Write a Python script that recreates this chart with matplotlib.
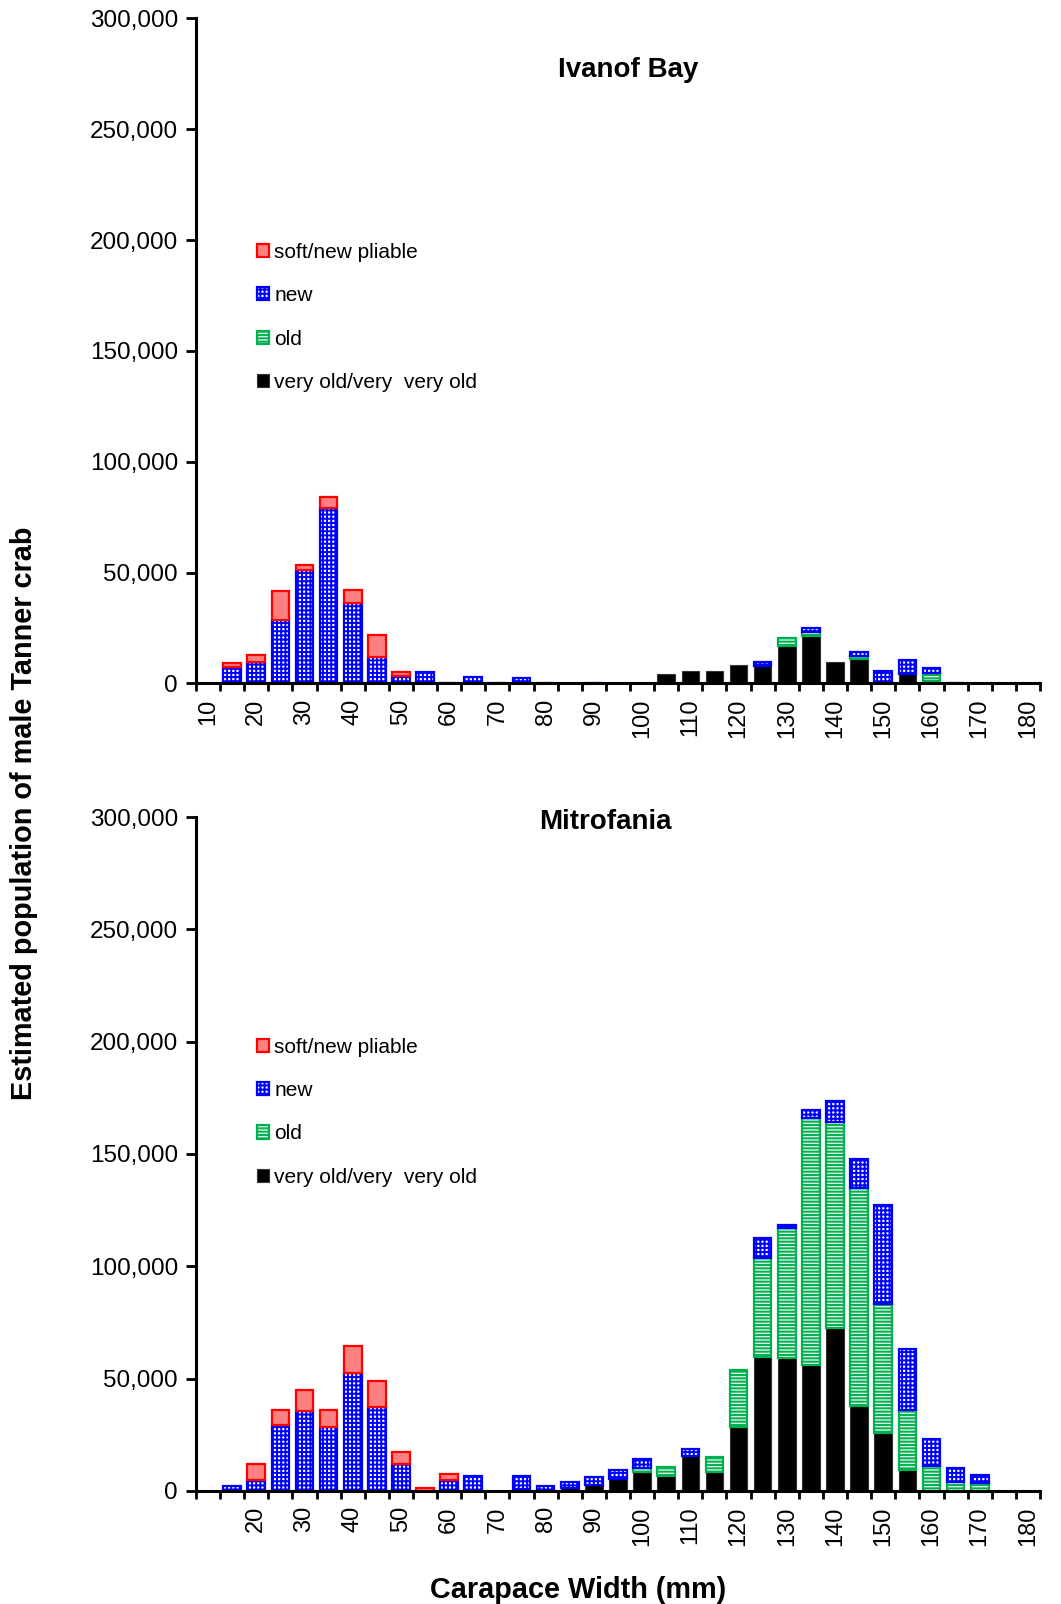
import matplotlib
matplotlib.use("Agg")
import matplotlib.pyplot as plt
import numpy as np
from matplotlib.ticker import FuncFormatter, FixedLocator

plt.rcParams['font.family'] = ['Liberation Sans', 'DejaVu Sans']
plt.rcParams['hatch.linewidth'] = 1.4

# ---------------- data ----------------
widths = [10, 15, 20, 25, 30, 35, 40, 45, 50, 55, 60, 65, 70, 75, 80, 85, 90, 95,
          100, 105, 110, 115, 120, 125, 130, 135, 140, 145, 150, 155, 160, 165,
          170, 175, 180]
series_names = ["soft/new pliable", "new", "old", "very old/very  very old"]

# Ivanof Bay
ivanof_very_old = [0, 0, 0, 0, 0, 0, 0, 0, 0, 0, 0, 0, 0, 0, 0, 0, 0, 0,
                   0, 4100, 5600, 5600, 8200, 7900, 17100, 21500, 9500, 11200, 0, 4100, 1100, 0,
                   0, 0, 0]
ivanof_old = [0, 0, 0, 0, 0, 0, 0, 0, 0, 0, 0, 0, 0, 0, 0, 0, 0, 0,
              0, 0, 0, 0, 0, 0, 3400, 1800, 0, 1200, 0, 0, 3700, 0,
              0, 0, 0]
ivanof_new = [0, 7600, 9800, 28800, 51100, 79200, 36100, 11800, 3300, 5000, 300, 3000, 200, 2600, 200, 0, 200, 0,
              0, 0, 0, 0, 0, 1600, 0, 1900, 0, 1800, 5600, 6700, 2000, 300,
              0, 0, 0]
ivanof_soft = [0, 1500, 3100, 12900, 2400, 4900, 6000, 10200, 1700, 0, 0, 0, 0, 0, 0, 0, 0, 0,
               0, 0, 0, 0, 0, 0, 0, 0, 0, 0, 0, 0, 0, 0,
               0, 0, 0]

# Mitrofania
mitro_very_old = [0, 0, 0, 0, 0, 0, 0, 0, 0, 0, 0, 0, 0, 700, 300, 1200, 2800, 5300,
                  8300, 6800, 15400, 8300, 28300, 59600, 59200, 55900, 72500, 37900, 25900, 9300, 0, 0,
                  0, 0, 0]
mitro_old = [0, 0, 0, 0, 0, 0, 0, 0, 0, 0, 0, 0, 0, 0, 0, 0, 0, 0,
             2100, 3700, 0, 6600, 25400, 44100, 57800, 110200, 91700, 96900, 57400, 26600, 11100, 3800,
             3400, 0, 0]
mitro_new = [0, 2200, 4700, 29300, 35500, 28600, 52700, 37400, 11800, 0, 4900, 6700, 0, 6000, 1900, 2900, 3300, 4000,
             3900, 0, 3400, 0, 0, 8900, 1300, 3700, 9600, 12800, 43900, 27400, 12000, 6600,
             3700, 0, 0]
mitro_soft = [0, 0, 7100, 6600, 9300, 7300, 11900, 11400, 5700, 1500, 2500, 0, 0, 0, 0, 0, 0, 0,
              0, 0, 0, 0, 0, 0, 0, 0, 0, 0, 0, 0, 0, 0,
              0, 0, 0]

top_labels = [str(w) if i % 2 == 0 else "" for i, w in enumerate(widths)]
bottom_labels = [("" if w == 10 else str(w)) if i % 2 == 0 else "" for i, w in enumerate(widths)]

# ---------------- style ----------------
styles = {
    "very_old": dict(facecolor="black", edgecolor="#333333", linewidth=0.8),
    "old": dict(facecolor="#d8f3e2", edgecolor="#00B050", hatch="-----", linewidth=1.6),
    "new": dict(facecolor="white", edgecolor="#0000FF", hatch="++++", linewidth=1.6),
    "soft": dict(facecolor="#FF8080", edgecolor="#FF0000", linewidth=1.6),
}

fig = plt.figure(figsize=(10.61, 16.04), dpi=100)
ax_top = fig.add_axes([0.1847, 0.5739, 0.7955, 0.4147])
ax_bot = fig.add_axes([0.1847, 0.0705, 0.7955, 0.4201])


def stacked(ax, x, vals, bottoms, w, style):
    vals = np.asarray(vals, float)
    m = vals > 0
    return ax.bar(x[m], vals[m], w, bottom=bottoms[m], zorder=2, **style)


def draw(ax, vo, ol, nw, sf, labels, title, title_xy, legend_y):
    x = np.arange(len(widths))
    vo = np.array(vo, float)
    ol = np.array(ol, float)
    nw = np.array(nw, float)
    sf = np.array(sf, float)
    w = 0.73
    zero = np.zeros(len(widths))
    b_vo = stacked(ax, x, vo, zero, w, styles["very_old"])
    b_ol = stacked(ax, x, ol, vo, w, styles["old"])
    b_nw = stacked(ax, x, nw, vo + ol, w, styles["new"])
    b_sf = stacked(ax, x, sf, vo + ol + nw, w, styles["soft"])

    ax.set_xlim(-0.5, len(widths) - 0.5)
    ax.set_ylim(0, 300000)
    ax.set_yticks(np.arange(0, 300001, 50000))
    ax.yaxis.set_major_formatter(FuncFormatter(lambda v, p: f"{int(v):,}"))
    ax.tick_params(axis='y', direction='out', length=7, width=2, labelsize=17.5, pad=6)

    ax.xaxis.set_major_locator(FixedLocator(x))
    ax.set_xticklabels(labels, rotation=90, fontsize=17)
    ax.xaxis.set_minor_locator(FixedLocator(np.arange(-0.5, len(widths), 1.0)))
    ax.tick_params(axis='x', which='major', length=0, pad=11)
    ax.tick_params(axis='x', which='minor', direction='out', length=6, width=2)

    for s in ['top', 'right']:
        ax.spines[s].set_visible(False)
    for s in ['left', 'bottom']:
        ax.spines[s].set_linewidth(2.2)

    ax.text(title_xy[0], title_xy[1], title, transform=ax.transAxes,
            ha='center', va='center', fontsize=20, fontweight='bold')

    ax.legend([b_sf, b_nw, b_ol, b_vo], series_names, loc='upper left',
              bbox_to_anchor=(0.062, legend_y), frameon=False, fontsize=15,
              handlelength=0.6, handleheight=0.6, handletextpad=0.25,
              labelspacing=1.17, borderaxespad=0)


draw(ax_top, ivanof_very_old, ivanof_old, ivanof_new, ivanof_soft, top_labels,
     "Ivanof Bay", (0.512, 0.923), 0.675)
draw(ax_bot, mitro_very_old, mitro_old, mitro_new, mitro_soft, bottom_labels,
     "Mitrofania", (0.485, 0.992), 0.685)

fig.text(0.023, 0.493, "Estimated population of male Tanner crab", rotation=90,
         ha='center', va='center', fontsize=20.8, fontweight='bold')
fig.text(0.545, 0.009, "Carapace Width (mm)", ha='center', va='center',
         fontsize=20.8, fontweight='bold')

fig.savefig("out.png", dpi=100)
